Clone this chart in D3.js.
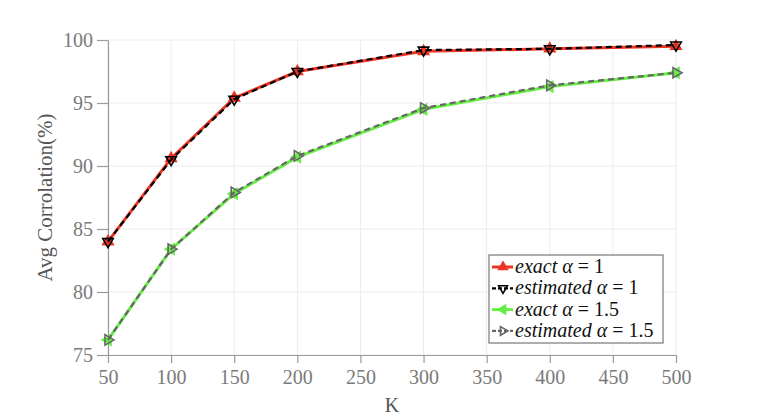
<!DOCTYPE html>
<html>
<head>
<meta charset="utf-8">
<script src="https://cdn.jsdelivr.net/npm/d3@7"></script>
<style>
  body { margin: 0; background: #fff; }
  text { font-family: "Liberation Serif", serif; }
</style>
</head>
<body>
<div id="chart"></div>
<script>
let kValues = [50, 100, 150, 200, 300, 400, 500];
let exact1 = [84.0, 90.6, 95.4, 97.5, 99.1, 99.3, 99.5];
let estimated1 = [84.0, 90.5, 95.3, 97.5, 99.2, 99.3, 99.6];
let exact15 = [76.2, 83.4, 87.8, 90.7, 94.5, 96.3, 97.4];
let estimated15 = [76.2, 83.4, 87.9, 90.8, 94.6, 96.4, 97.4];
let xTicks = [50, 100, 150, 200, 250, 300, 350, 400, 450, 500];
let yTicks = [75, 80, 85, 90, 95, 100];

let width = 757, height = 419;
let margin = {top: 40, right: 81, bottom: 64, left: 108};
let plotW = width - margin.left - margin.right;
let plotH = height - margin.top - margin.bottom;

let svg = d3.select('#chart').append('svg')
    .attr('width', width)
    .attr('height', height);

let g = svg.append('g')
    .attr('transform', `translate(${margin.left},${margin.top})`);

let x = d3.scaleLinear().domain([50, 500]).range([0, plotW]);
let y = d3.scaleLinear().domain([75, 100]).range([plotH, 0]);

// grid
g.selectAll('.vgrid').data(xTicks).enter().append('line')
    .attr('x1', d => x(d)).attr('x2', d => x(d))
    .attr('y1', 0).attr('y2', plotH)
    .attr('stroke', '#ececec').attr('stroke-width', 1);
g.selectAll('.hgrid').data(yTicks).enter().append('line')
    .attr('x1', 0).attr('x2', plotW)
    .attr('y1', d => y(d)).attr('y2', d => y(d))
    .attr('stroke', '#ececec').attr('stroke-width', 1);

// axes
let xAxis = g.append('g')
    .attr('transform', `translate(0,${plotH})`)
    .call(d3.axisBottom(x).tickValues(xTicks).tickSize(8).tickPadding(7).tickSizeOuter(0));
let yAxis = g.append('g')
    .call(d3.axisLeft(y).tickValues(yTicks).tickSize(11).tickPadding(4).tickSizeOuter(0));

[xAxis, yAxis].forEach(a => {
    a.attr('font-family', null);
    a.select('.domain').attr('stroke', '#9a9a9a').attr('stroke-width', 1.2);
    a.selectAll('.tick line').attr('stroke', '#9a9a9a').attr('stroke-width', 1.2);
    a.selectAll('.tick text')
        .attr('fill', '#7a7a7a')
        .style('font-family', '"Liberation Serif", serif')
        .style('font-size', '20px');
});

svg.append('text')
    .attr('x', margin.left + x(275))
    .attr('y', 412)
    .attr('text-anchor', 'middle')
    .attr('fill', '#555')
    .style('font-size', '20px')
    .text('K');

svg.append('text')
    .attr('transform', `translate(52,${margin.top + plotH / 2}) rotate(-90)`)
    .attr('text-anchor', 'middle')
    .attr('fill', '#555')
    .style('font-size', '21px')
    .text('Avg Corrolation(%)');

// series
let series = [
    {name: 'exact', alpha: '1', values: exact1, color: '#ee3424', width: 3, dash: null, shape: 'up', fill: '#ee3424'},
    {name: 'estimated', alpha: '1', values: estimated1, color: '#000', width: 2.2, dash: '6,4', shape: 'down', fill: 'none'},
    {name: 'exact', alpha: '1.5', values: exact15, color: '#66ee44', width: 3, dash: null, shape: 'left', fill: '#66ee44'},
    {name: 'estimated', alpha: '1.5', values: estimated15, color: '#666', width: 2.2, dash: '6,4', shape: 'right', fill: 'none'}
];

function triangle(shape, r) {
    let pts;
    if (shape == 'up') pts = [[0, -r], [r * 0.87, r * 0.5], [-r * 0.87, r * 0.5]];
    if (shape == 'down') pts = [[0, r], [r * 0.87, -r * 0.5], [-r * 0.87, -r * 0.5]];
    if (shape == 'left') pts = [[-r, 0], [r * 0.5, r * 0.87], [r * 0.5, -r * 0.87]];
    if (shape == 'right') pts = [[r, 0], [-r * 0.5, r * 0.87], [-r * 0.5, -r * 0.87]];
    return 'M' + pts.map(p => p.join(',')).join('L') + 'Z';
}

let line = d3.line()
    .x((d, i) => x(kValues[i]))
    .y(d => y(d));

series.forEach(s => {
    g.append('path')
        .attr('d', line(s.values))
        .attr('fill', 'none')
        .attr('stroke', s.color)
        .attr('stroke-width', s.width)
        .attr('stroke-dasharray', s.dash);
    g.selectAll(null).data(s.values).enter().append('path')
        .attr('transform', (d, i) => `translate(${x(kValues[i])},${y(d)})`)
        .attr('d', triangle(s.shape, 6))
        .attr('fill', s.fill)
        .attr('stroke', s.color)
        .attr('stroke-width', 1.6);
});

// legend
let legend = svg.append('g').attr('transform', 'translate(489,255)');
legend.append('rect')
    .attr('width', 174).attr('height', 88)
    .attr('fill', '#fff')
    .attr('stroke', '#777').attr('stroke-width', 1.2);

series.forEach((s, i) => {
    let row = legend.append('g').attr('transform', `translate(0,${12 + i * 21.3})`);
    row.append('line')
        .attr('x1', 3).attr('x2', 24)
        .attr('stroke', s.color)
        .attr('stroke-width', s.width)
        .attr('stroke-dasharray', s.dash ? '4,2' : null);
    row.append('path')
        .attr('transform', 'translate(14,0)')
        .attr('d', triangle(s.shape, 5))
        .attr('fill', s.fill)
        .attr('stroke', s.color)
        .attr('stroke-width', 1.6);
    let t = row.append('text')
        .attr('x', 26).attr('y', 6)
        .attr('fill', '#111')
        .style('font-size', '20px');
    t.append('tspan').style('font-style', 'italic').text(s.name + ' \u03B1');
    t.append('tspan').text(' = ' + s.alpha);
});
</script>
</body>
</html>
